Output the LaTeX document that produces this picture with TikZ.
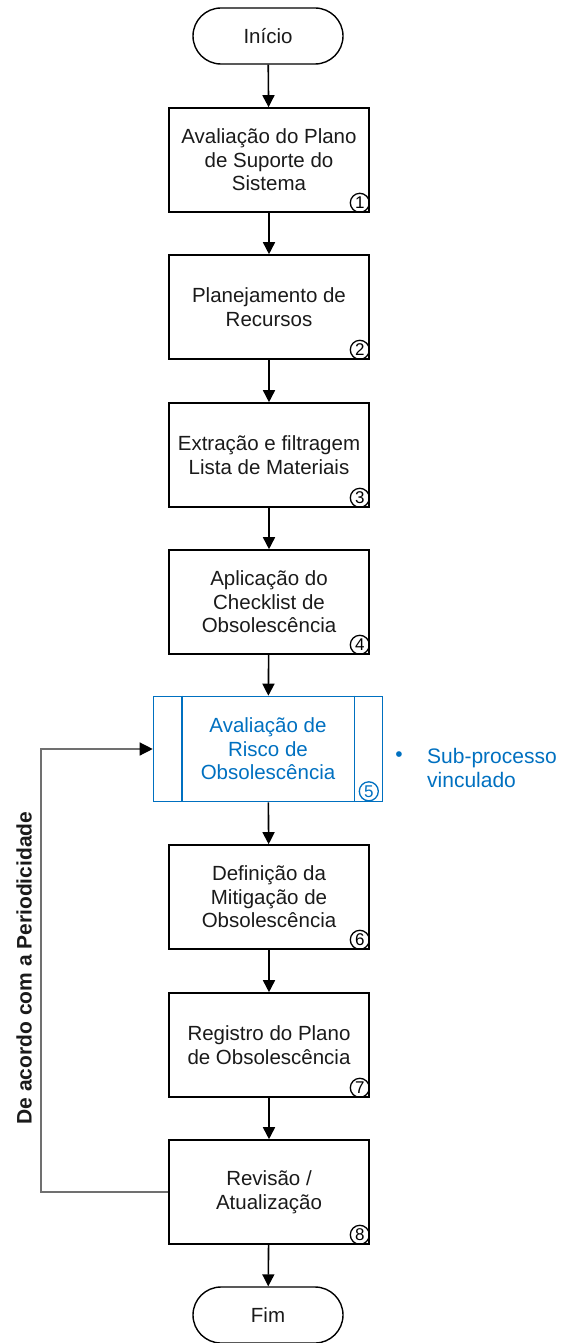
\documentclass[tikz,border=0pt]{standalone}
\usepackage{fontspec}
\setmainfont{Liberation Sans}
\usetikzlibrary{arrows.meta,shapes.misc,calc}
\definecolor{subblue}{HTML}{0070C0}
\definecolor{loopgray}{HTML}{707070}
\definecolor{txt}{HTML}{1A1A1A}
\begin{document}
\begin{tikzpicture}[x=1pt,y=-1pt,
  stepbox/.style={draw=black, line width=1.6pt, minimum width=200pt, minimum height=104pt,
    align=center, inner sep=0pt, font=\fontsize{20.5}{23.5}\selectfont, text=txt},
  term/.style={rounded rectangle, draw=black, line width=1.4pt, minimum width=150pt,
    minimum height=56pt, inner sep=0pt, font=\fontsize{20.5}{23.5}\selectfont, text=txt},
  flow/.style={-{Triangle[length=12pt,width=12pt]}, line width=1.6pt},
  num/.style={circle, draw, line width=1.3pt, inner sep=0pt, minimum size=19pt,
    font=\fontsize{17}{17}\selectfont}
]
\useasboundingbox (0,0) rectangle (560,1343);

\node[term] (start) at (268,36) {Início};
\node[stepbox] (b1) at (269,160) {Avaliação do Plano\\de Suporte do\\Sistema};
\node[stepbox] (b2) at (269,307) {Planejamento de\\Recursos};
\node[stepbox] (b3) at (269,455) {Extração e filtragem\\Lista de Materiais};
\node[stepbox] (b4) at (269,602) {Aplicação do\\Checklist de\\Obsolescência};
\node[stepbox, draw=subblue, text=subblue, minimum width=229pt, minimum height=105pt] (b5) at (268,749) {Avaliação de\\Risco de\\Obsolescência};
\node[stepbox] (b6) at (269,897) {Definição da\\Mitigação de\\Obsolescência};
\node[stepbox] (b7) at (269,1045) {Registro do Plano\\de Obsolescência};
\node[stepbox] (b8) at (269,1192) {Revisão /\\Atualização};
\node[term] (fim) at (268,1315) {Fim};

% sub-process inner lines
\draw[subblue, line width=1.6pt] ([xshift=29pt]b5.north west) -- ([xshift=29pt]b5.south west);
\draw[subblue, line width=1.6pt] ([xshift=-29pt]b5.north east) -- ([xshift=-29pt]b5.south east);

% numbers
\foreach \b/\n in {b1/1,b2/2,b3/3,b4/4,b6/6,b7/7,b8/8}{
  \node[num] (n\n) at ([xshift=-10pt,yshift=10pt]\b.south east) {\n};
}
\node[num, draw=subblue, text=subblue] (n5) at ([xshift=-14.5pt,yshift=11pt]b5.south east) {5};

% flow arrows
\draw[flow] (start) -- (b1);
\draw[flow] (b1) -- (b2);
\draw[flow] (b2) -- (b3);
\draw[flow] (b3) -- (b4);
\draw[flow] (b4) -- (b5);
\draw[flow] (b5) -- (b6);
\draw[flow] (b6) -- (b7);
\draw[flow] (b7) -- (b8);
\draw[flow] (b8) -- (fim);

% feedback loop
\coordinate (lp) at (41,0);
\draw[loopgray, line width=1.3pt, -{Triangle[length=13pt,width=13pt,color=black]}]
  (b8.west) -| (lp |- b5.west) -- (b5.west);

\node[rotate=90, font=\bfseries\fontsize{21}{24}\selectfont, text=txt] (per) at (24,968) {De acordo com a Periodicidade};

% sub-process note
\node[text=subblue, font=\fontsize{21}{24}\selectfont, inner sep=0pt] (bul) at (399,757) {•};
\node[text=subblue, font=\fontsize{21}{24}\selectfont, anchor=west, align=left, inner sep=0pt] (sub) at (427,768) {Sub-processo\\vinculado};
\end{tikzpicture}
\end{document}
